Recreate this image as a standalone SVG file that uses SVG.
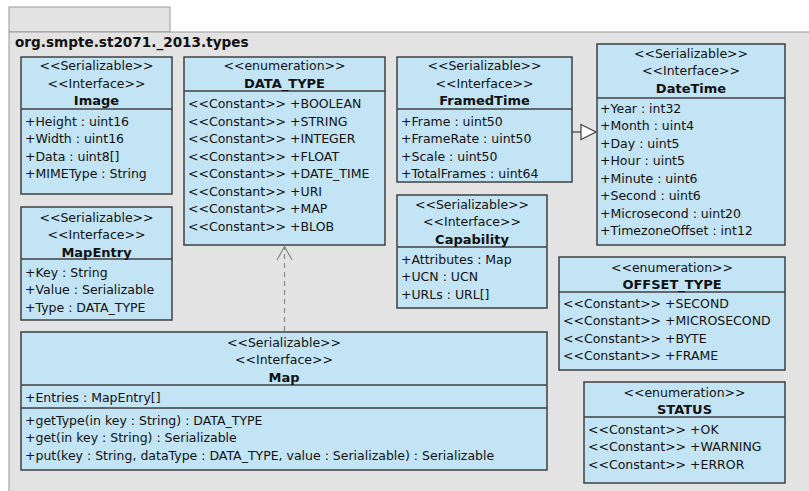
<svg xmlns="http://www.w3.org/2000/svg" width="809" height="491" viewBox="0 0 809 491">
<style>
.pkg{fill:#e3e3e3;stroke:#9a9a9a;stroke-width:1}
.box{fill:#c2e4f5;stroke:#404040;stroke-width:1.5}
.div{stroke:#404040;stroke-width:1.5}
text{font-family:"DejaVu Sans","Liberation Sans",sans-serif;font-size:12.5px;fill:#111}
.c{text-anchor:middle}
.b{font-weight:bold;font-size:13px}
.title{font-size:13.6px;font-weight:bold}
.conn{fill:none;stroke:#8a8a8a;stroke-width:1.2}
</style>
<rect width="809" height="491" fill="#ffffff"/>
<g id="package">
<rect class="pkg" x="9" y="7" width="161" height="25"/>
<rect class="pkg" x="9" y="32" width="820" height="480"/>
<text class="title" x="15" y="47">org.smpte.st2071._2013.types</text>
</g>
<g id="Image">
<rect class="box" x="21" y="57" width="151" height="137"/>
<line class="div" x1="21" y1="109" x2="172" y2="109"/>
<text class="c" x="96.5" y="70">&lt;&lt;Serializable&gt;&gt;</text>
<text class="c" x="96.5" y="87.5">&lt;&lt;Interface&gt;&gt;</text>
<text class="c b" x="96.5" y="105">Image</text>
<text x="25" y="125.5">+Height : uint16</text>
<text x="25" y="143">+Width : uint16</text>
<text x="25" y="160.5">+Data : uint8[]</text>
<text x="25" y="178">+MIMEType : String</text>
</g>
<g id="DATA_TYPE">
<rect class="box" x="184" y="57" width="201" height="188"/>
<line class="div" x1="184" y1="91" x2="385" y2="91"/>
<text class="c" x="284.5" y="70">&lt;&lt;enumeration&gt;&gt;</text>
<text class="c b" x="284.5" y="87.5">DATA_TYPE</text>
<text x="188" y="108">&lt;&lt;Constant&gt;&gt; +BOOLEAN</text>
<text x="188" y="125.5">&lt;&lt;Constant&gt;&gt; +STRING</text>
<text x="188" y="143">&lt;&lt;Constant&gt;&gt; +INTEGER</text>
<text x="188" y="160.5">&lt;&lt;Constant&gt;&gt; +FLOAT</text>
<text x="188" y="178">&lt;&lt;Constant&gt;&gt; +DATE_TIME</text>
<text x="188" y="195.5">&lt;&lt;Constant&gt;&gt; +URI</text>
<text x="188" y="213">&lt;&lt;Constant&gt;&gt; +MAP</text>
<text x="188" y="230.5">&lt;&lt;Constant&gt;&gt; +BLOB</text>
</g>
<g id="FramedTime">
<rect class="box" x="397" y="57" width="175" height="125"/>
<line class="div" x1="397" y1="109" x2="572" y2="109"/>
<text class="c" x="484.5" y="70">&lt;&lt;Serializable&gt;&gt;</text>
<text class="c" x="484.5" y="87.5">&lt;&lt;Interface&gt;&gt;</text>
<text class="c b" x="484.5" y="105">FramedTime</text>
<text x="401" y="125.5">+Frame : uint50</text>
<text x="401" y="143">+FrameRate : uint50</text>
<text x="401" y="160.5">+Scale : uint50</text>
<text x="401" y="178">+TotalFrames : uint64</text>
</g>
<g id="DateTime">
<rect class="box" x="597" y="44" width="188" height="201"/>
<line class="div" x1="597" y1="98" x2="785" y2="98"/>
<text class="c" x="691" y="57.5">&lt;&lt;Serializable&gt;&gt;</text>
<text class="c" x="691" y="75">&lt;&lt;Interface&gt;&gt;</text>
<text class="c b" x="691" y="92.5">DateTime</text>
<text x="600" y="112.5">+Year : int32</text>
<text x="600" y="130">+Month : uint4</text>
<text x="600" y="147.5">+Day : uint5</text>
<text x="600" y="165">+Hour : uint5</text>
<text x="600" y="182.5">+Minute : uint6</text>
<text x="600" y="200">+Second : uint6</text>
<text x="600" y="217.5">+Microsecond : uint20</text>
<text x="600" y="235">+TimezoneOffset : int12</text>
</g>
<g id="MapEntry">
<rect class="box" x="21" y="207" width="151" height="113"/>
<line class="div" x1="21" y1="259" x2="172" y2="259"/>
<text class="c" x="96.5" y="221.5">&lt;&lt;Serializable&gt;&gt;</text>
<text class="c" x="96.5" y="239">&lt;&lt;Interface&gt;&gt;</text>
<text class="c b" x="96.5" y="256.5">MapEntry</text>
<text x="25" y="276.5">+Key : String</text>
<text x="25" y="294">+Value : Serializable</text>
<text x="25" y="311.5">+Type : DATA_TYPE</text>
</g>
<g id="Capability">
<rect class="box" x="397" y="195" width="150" height="113"/>
<line class="div" x1="397" y1="247" x2="547" y2="247"/>
<text class="c" x="472" y="208.5">&lt;&lt;Serializable&gt;&gt;</text>
<text class="c" x="472" y="226">&lt;&lt;Interface&gt;&gt;</text>
<text class="c b" x="472" y="243.5">Capability</text>
<text x="401" y="263.5">+Attributes : Map</text>
<text x="401" y="281">+UCN : UCN</text>
<text x="401" y="298.5">+URLs : URL[]</text>
</g>
<g id="OFFSET_TYPE">
<rect class="box" x="559" y="257" width="226" height="113"/>
<line class="div" x1="559" y1="292" x2="785" y2="292"/>
<text class="c" x="672" y="271.5">&lt;&lt;enumeration&gt;&gt;</text>
<text class="c b" x="672" y="289">OFFSET_TYPE</text>
<text x="563" y="307.5">&lt;&lt;Constant&gt;&gt; +SECOND</text>
<text x="563" y="325">&lt;&lt;Constant&gt;&gt; +MICROSECOND</text>
<text x="563" y="342.5">&lt;&lt;Constant&gt;&gt; +BYTE</text>
<text x="563" y="360">&lt;&lt;Constant&gt;&gt; +FRAME</text>
</g>
<g id="STATUS">
<rect class="box" x="584" y="382" width="201" height="101"/>
<line class="div" x1="584" y1="417" x2="785" y2="417"/>
<text class="c" x="684.5" y="396.5">&lt;&lt;enumeration&gt;&gt;</text>
<text class="c b" x="684.5" y="414">STATUS</text>
<text x="588" y="433.5">&lt;&lt;Constant&gt;&gt; +OK</text>
<text x="588" y="451">&lt;&lt;Constant&gt;&gt; +WARNING</text>
<text x="588" y="468.5">&lt;&lt;Constant&gt;&gt; +ERROR</text>
</g>
<g id="Map">
<rect class="box" x="21" y="332" width="526" height="138"/>
<line class="div" x1="21" y1="385" x2="547" y2="385"/>
<line class="div" x1="21" y1="408" x2="547" y2="408"/>
<text class="c" x="284" y="346.5">&lt;&lt;Serializable&gt;&gt;</text>
<text class="c" x="284" y="364">&lt;&lt;Interface&gt;&gt;</text>
<text class="c b" x="284" y="381.5">Map</text>
<text x="25" y="401.5">+Entries : MapEntry[]</text>
<text x="25" y="424.5">+getType(in key : String) : DATA_TYPE</text>
<text x="25" y="442">+get(in key : String) : Serializable</text>
<text x="25" y="459.5">+put(key : String, dataType : DATA_TYPE, value : Serializable) : Serializable</text>
</g>
<g id="connectors">
<line x1="572" y1="132" x2="581" y2="132" stroke="#404040" stroke-width="1.2"/>
<polygon points="581,124.5 596,132 581,139.5" fill="#ffffff" stroke="#404040" stroke-width="1.2"/>
<line class="conn" x1="284.5" y1="331" x2="284.5" y2="247" stroke-dasharray="5,4"/>
<polyline class="conn" points="277,260 284.5,246.5 292,260"/>
</g>
</svg>
